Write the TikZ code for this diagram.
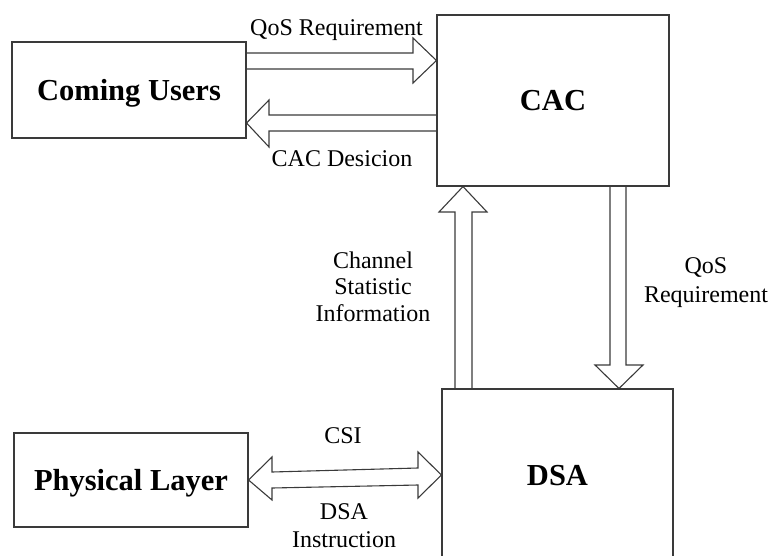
\documentclass[tikz,border=0pt]{standalone}
\usepackage{fontspec}
\setmainfont{Liberation Serif}
\definecolor{linec}{HTML}{3A3A3A}
\begin{document}
\begin{tikzpicture}[x=1pt,y=-1pt,
  box/.style={draw=linec, line width=1.1pt, inner sep=0pt,
    font=\fontsize{30.5}{36}\selectfont\bfseries, text height=20.5pt, text depth=0pt},
  blk/.style={draw=linec, line width=1.1pt, line join=miter},
  lbl/.style={font=\fontsize{24}{28}\selectfont, align=center, inner sep=0pt, text=black}]
\useasboundingbox (0,0) rectangle (772,555);
\clip (0,0) rectangle (772,555);
% boxes
\node[box, minimum width=234pt, minimum height=96pt] (cu) at (129,90) {Coming Users};
\node[box, minimum width=232pt, minimum height=171pt] (cac) at (553,100.5) {CAC};
\node[box, minimum width=231pt, minimum height=172pt] (dsa) at (557.5,475) {DSA};
\node[box, minimum width=234pt, minimum height=94pt] (pl) at (131,480) {Physical Layer};
% QoS requirement (users -> CAC)
\draw[blk] (cu.east |- 0,53) -- (413,53) -- (413,38) -- (cac.west |- 0,60.5)
  -- (413,83) -- (413,69) -- (cu.east |- 0,69);
% CAC decision (CAC -> users)
\draw[blk] (cac.west |- 0,115) -- (269,115) -- (269,100) -- (cu.east |- 0,123)
  -- (269,147) -- (269,131) -- (cac.west |- 0,131);
% channel statistic information (DSA -> CAC)
\draw[blk] (455,0 |- dsa.north) -- (455,212) -- (439,212) -- (463,0 |- cac.south)
  -- (487,212) -- (472,212) -- (472,0 |- dsa.north);
% QoS requirement (CAC -> DSA)
\draw[blk] (610,0 |- cac.south) -- (610,365) -- (595,365) -- (619,0 |- dsa.north)
  -- (643,365) -- (626,365) -- (626,0 |- cac.south);
% CSI / DSA instruction (double)
\draw[blk] (pl.east) -- (272,457) -- (272,472) -- (418,468) -- (418,452) -- (dsa.west)
  -- (418,498) -- (418,485) -- (272,488) -- (272,500) -- cycle;
% labels
\node[lbl, anchor=base] (l1) at (336.5,35) {QoS Requirement};
\node[lbl, anchor=base] (l2) at (342,166) {CAC Desicion};
\node[lbl, font=\fontsize{24}{26.5}\selectfont] (l3) at (373,286.3) {Channel\\Statistic\\Information};
\node[lbl, font=\fontsize{24}{29}\selectfont] (l4) at (706,282.2) {QoS\\Requirement};
\node[lbl, anchor=base] (l5) at (343,443) {CSI};
\node[lbl, font=\fontsize{24}{28}\selectfont] (l6) at (344,526) {DSA\\Instruction};
\end{tikzpicture}
\end{document}
